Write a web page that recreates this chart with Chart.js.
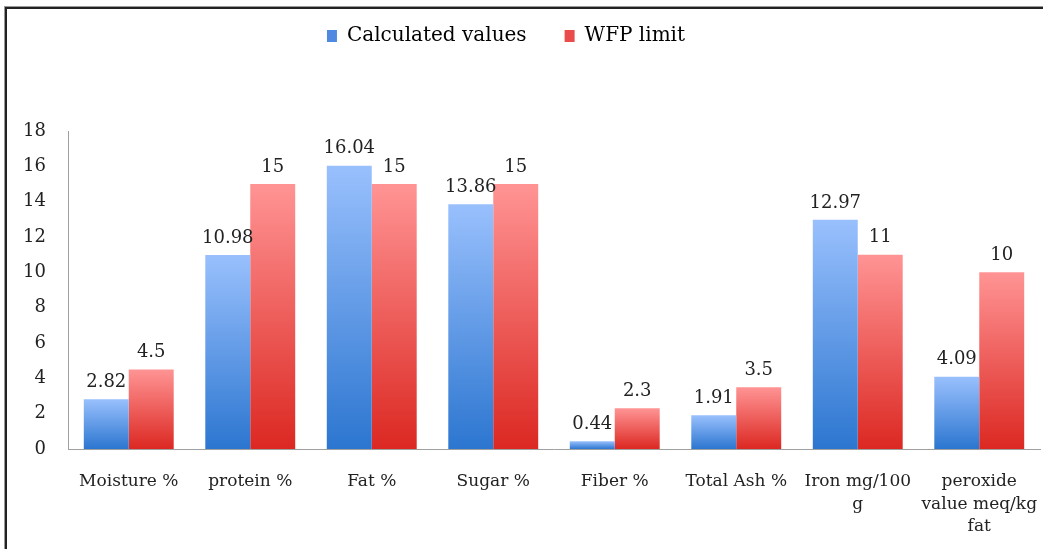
<!DOCTYPE html>
<html lang="en">
<head>
    <meta charset="UTF-8">
    <title>Calculated values vs WFP limit</title>
    <script src="https://cdn.jsdelivr.net/npm/chart.js"></script>
    <style>
        body { margin: 0; background: #fff; }
        #frame {
            position: absolute; left: 5px; top: 7px; width: 1100px; height: 600px;
            border-left: 2px solid #222; border-top: 2px solid #222;
            box-shadow: -1px -1px 0 #999;
        }
        #wrap { position: absolute; left: 0; top: 0; width: 1043px; height: 549px; }
    </style>
</head>
<body>
    <div id="frame"></div>
    <div id="wrap"><canvas id="chart"></canvas></div>

    <script>
        // data
        const categories = [
            'Moisture %', 'protein %', 'Fat %', 'Sugar %', 'Fiber %', 'Total Ash %',
            ['Iron mg/100', 'g'], ['peroxide', 'value meq/kg', 'fat']
        ];
        const calculatedValues = [2.82, 10.98, 16.04, 13.86, 0.44, 1.91, 12.97, 4.09];
        const wfpLimit = [4.5, 15, 15, 15, 2.3, 3.5, 11, 10];
        const yTicks = [0, 2, 4, 6, 8, 10, 12, 14, 16, 18];

        const FONT = '"DejaVu Serif", serif';

        // vertical gradient per bar, light on top, dark at bottom
        function barGradient(light, dark) {
            return function(ctx) {
                const chart = ctx.chart;
                const y = chart.scales.y;
                if (!chart.chartArea || !y || ctx.type !== 'data') return dark;
                const top = y.getPixelForValue(ctx.raw);
                const base = y.getPixelForValue(0);
                if (!isFinite(top) || !isFinite(base) || top === base) return dark;
                const g = chart.ctx.createLinearGradient(0, top, 0, base);
                g.addColorStop(0, light);
                g.addColorStop(1, dark);
                return g;
            };
        }

        // value labels above each bar
        const valueLabels = {
            id: 'valueLabels',
            afterDatasetsDraw(chart) {
                const c = chart.ctx;
                c.save();
                c.font = '18px ' + FONT;
                c.fillStyle = '#222';
                c.textAlign = 'center';
                c.textBaseline = 'bottom';
                chart.data.datasets.forEach((ds, i) => {
                    chart.getDatasetMeta(i).data.forEach((bar, j) => {
                        c.fillText(String(ds.data[j]), bar.x, bar.y - 8);
                    });
                });
                c.restore();
            }
        };

        // tall empty band under the legend, legend nudged up/left like the original
        const legendSpace = {
            id: 'legendSpace',
            beforeInit(chart) {
                const fit = chart.legend.fit;
                chart.legend.fit = function() {
                    fit.bind(this)();
                    this.height = 131;
                };
            },
            afterLayout(chart) {
                const lg = chart.legend;
                lg.top -= 12;
                lg.left -= 18;
                lg.right -= 18;
            }
        };

        const legendColors = ['#4f8ae0', '#ea4c4c'];

        new Chart(document.getElementById('chart'), {
            type: 'bar',
            data: {
                labels: categories,
                datasets: [{
                    label: 'Calculated values',
                    data: calculatedValues,
                    backgroundColor: barGradient('#99c0fd', '#2c76d0')
                }, {
                    label: 'WFP limit',
                    data: wfpLimit,
                    backgroundColor: barGradient('#ff9494', '#dc2822')
                }]
            },
            options: {
                responsive: true,
                maintainAspectRatio: false,
                animation: false,
                categoryPercentage: 0.74,
                barPercentage: 1.0,
                layout: { padding: { top: 0, left: 8, right: 3, bottom: 8 } },
                plugins: {
                    tooltip: { enabled: false },
                    legend: {
                        position: 'top',
                        labels: {
                            font: { family: FONT, size: 20 },
                            color: '#111',
                            boxWidth: 10,
                            boxHeight: 12,
                            padding: 38,
                            generateLabels: chart => chart.data.datasets.map((ds, i) => ({
                                text: ds.label,
                                fillStyle: legendColors[i],
                                strokeStyle: legendColors[i],
                                lineWidth: 0,
                                datasetIndex: i
                            }))
                        }
                    }
                },
                scales: {
                    x: {
                        grid: { display: false, drawTicks: false },
                        border: { color: '#a0a0a0', width: 1 },
                        ticks: {
                            font: { family: FONT, size: 17, lineHeight: 1.3 },
                            color: '#222',
                            padding: 22,
                            maxRotation: 0,
                            autoSkip: false
                        },
                        afterFit(scale) {
                            scale.height = 92;
                            scale.paddingLeft = 0;
                            scale.paddingRight = 0;
                        }
                    },
                    y: {
                        min: 0,
                        max: 18,
                        grid: { display: false, drawTicks: false },
                        border: { color: '#a0a0a0', width: 1 },
                        afterBuildTicks(scale) { scale.ticks = yTicks.map(v => ({ value: v })); },
                        ticks: {
                            font: { family: FONT, size: 18 },
                            color: '#222',
                            padding: 22
                        },
                        afterFit(scale) {
                            scale.width = 60;
                            scale.paddingTop = 0;
                            scale.paddingBottom = 0;
                        }
                    }
                }
            },
            plugins: [valueLabels, legendSpace]
        });
    </script>
</body>
</html>
